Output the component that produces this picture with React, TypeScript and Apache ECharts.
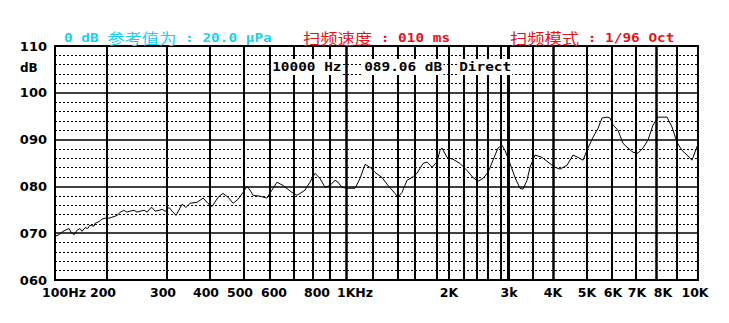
import React, { useEffect, useRef } from 'react';
import * as echarts from 'echarts';

// ---- measured response (frequency in Hz, level in dB re 20 µPa) ----
const freqHz = [
  100, 108, 113, 119, 127, 131, 137, 142, 148, 152, 158, 163, 167, 175, 177, 185, 190, 196,
  203, 208, 217, 222, 228, 233, 238, 245, 250, 255, 262, 267, 272, 275, 280, 287, 292, 297,
  305, 312, 321, 335, 344, 354, 370, 384, 395, 406, 424, 438, 453, 468, 482, 497, 512, 523,
  535, 562, 588, 608, 629, 654, 692, 716, 758, 784, 812, 841, 871, 900, 931, 950, 975, 1007,
  1067, 1104, 1141, 1178, 1216, 1272, 1320, 1376, 1400, 1447, 1506, 1565, 1618, 1673, 1709,
  1755, 1800, 1850, 1883, 1967, 2053, 2147, 2246, 2338, 2418, 2509, 2600, 2677, 2754, 2829,
  2914, 3040, 3140, 3240, 3300, 3380, 3440, 3550, 3725, 3875, 4059, 4206, 4412, 4588, 4735,
  4882, 5040, 5240, 5440, 5600, 5800, 5920, 6042, 6250, 6458, 6667, 6875, 7100, 7350, 7600,
  7850, 8095, 8524, 8762, 9000, 9238, 9476, 9714, 10000,
];
const levelDb = [
  69.3, 69.7, 70.2, 70.6, 71.0, 70.2, 69.7, 70.6, 71.0, 70.4, 71.2, 71.0, 71.7, 71.5, 72.1, 72.5, 73.0, 73.2,
  73.2, 73.4, 73.8, 74.5, 74.9, 74.5, 74.7, 74.9, 74.5, 74.7, 74.9, 74.5, 75.3, 75.5, 74.7, 74.9, 75.1, 74.7,
  75.5, 74.7, 73.8, 76.2, 75.5, 76.4, 76.6, 77.5, 76.4, 75.7, 77.7, 78.5, 77.7, 76.4, 77.2, 78.7, 80.0, 79.2,
  78.1, 77.9, 77.5, 79.2, 80.9, 80.2, 78.7, 78.1, 79.2, 80.9, 82.8, 81.7, 79.8, 80.2, 81.3, 80.9, 79.8, 79.6,
  79.6, 81.7, 84.7, 84.1, 83.0, 81.9, 80.2, 78.5, 77.7, 78.7, 81.3, 81.9, 82.8, 84.9, 85.2,
  84.1, 85.2, 87.7, 88.2, 86.2, 85.8, 84.9, 83.4, 81.9, 81.1, 81.7, 83.0, 85.6, 88.2, 88.8,
  87.7, 84.9, 81.9, 79.6, 79.4, 81.3, 84.1, 86.7, 86.2, 85.2, 84.1, 83.7, 84.5, 86.7, 86.2,
  85.6, 88.2, 90.5, 92.4, 94.6, 94.8, 94.6, 93.1, 92.0, 89.2, 88.2, 87.3, 87.1, 88.2, 89.9,
  93.1, 94.8, 94.8, 92.7, 89.4, 87.7, 86.7, 85.6, 89.06,
];

// ---- the analyzer's (non-logarithmic) frequency scale: grid frequencies and their axis units ----
const gridFreqs = [
  100, 200, 300, 400, 500, 600, 700, 800, 900, 1000, 1200, 1400, 1600, 1800, 2000,
  2200, 2400, 2600, 2800, 3000, 3500, 4000, 5000, 6000, 7000, 8000, 9000, 10000,
];
const gridUnits = [
  0, 52, 112, 155, 189, 215, 239, 258, 275, 291, 318, 343, 360, 382, 394,
  409, 422, 433, 446, 453, 478, 498, 532, 557, 581, 601, 622, 643,
];
const heavyGridFreqs = [1000, 3000, 4000, 8000];

// ---- tick labels ----
const xLabelFreqs = [100, 200, 300, 400, 500, 600, 800, 1000, 2000, 3000, 4000, 5000, 6000, 7000, 8000, 10000];
const xLabelTexts = ['100Hz', '200', '300', '400', '500', '600', '800', '1KHz', '2K', '3k', '4K', '5K', '6K', '7K', '8K', '10K'];
const xLabelNudge = [9, -4, -4, -4, -4, 4, 4, 9, 0, 1, 0, 0, 1, 1, 7, -3];
const yMin = 60;
const yMax = 110;
const yStep = 10;

// ---- header / readout texts ----
const headerRef = '{a|0 dB }{c|参考值为}{a| : 20.0 μPa}';
const headerSpeed = '{c|扫频速度}{a| : 010 ms}';
const headerMode = '{c|扫频模式}{a| : 1/96 Oct}';
const readoutTexts = ['10000 Hz', '089.06 dB', 'Direct'];
const yUnit = 'dB';

function warp(f: number): number {
  for (let i = 0; i < gridFreqs.length - 1; i++) {
    if (f <= gridFreqs[i + 1]) {
      const t = (f - gridFreqs[i]) / (gridFreqs[i + 1] - gridFreqs[i]);
      return gridUnits[i] + t * (gridUnits[i + 1] - gridUnits[i]);
    }
  }
  return gridUnits[gridUnits.length - 1];
}

export default function App() {
  const ref = useRef<HTMLDivElement>(null);

  useEffect(() => {
    if (!ref.current) return;
    const chart = echarts.init(ref.current, null, { renderer: 'svg' });

    const labelUnits = xLabelFreqs.map(warp);
    const rich: Record<string, any> = {};
    xLabelNudge.forEach((n, i) => {
      rich['n' + i] = {
        padding: n >= 0 ? [0, 0, 0, 2 * n] : [0, -2 * n, 0, 0],
      };
    });

    const monoRich = {
      a: { fontFamily: 'DejaVu Sans Mono', fontWeight: 'bold', fontSize: 12 },
      c: { fontFamily: 'Noto Sans CJK SC', fontWeight: 'normal', fontSize: 14.4 },
    };

    const headerText = (x: number, text: string, color: string) => ({
      type: 'text',
      x,
      y: 38,
      scaleX: 1.2,
      z: 100,
      style: {
        text,
        rich: monoRich,
        fill: color,
        verticalAlign: 'middle',
        textVerticalAlign: 'middle',
        align: 'left',
        textAlign: 'left',
      },
    });

    const readoutX = [271, 363, 458];

    chart.setOption({
      animation: false,
      backgroundColor: '#ffffff',
      grid: {
        left: 55,
        right: 31,
        top: 46,
        bottom: 43,
        show: true,
        borderColor: '#000',
        borderWidth: 2,
        backgroundColor: 'transparent',
      },
      xAxis: {
        type: 'value',
        min: gridUnits[0],
        max: gridUnits[gridUnits.length - 1],
        axisLine: { show: false },
        axisTick: { show: false },
        splitLine: { show: false },
        axisLabel: {
          customValues: labelUnits,
          margin: 6,
          color: '#000',
          fontFamily: 'DejaVu Sans',
          fontWeight: 'bold',
          fontSize: 12.5,
          hideOverlap: false,
          rich,
          formatter: (v: number) => {
            let idx = 0;
            let best = Infinity;
            labelUnits.forEach((u, i) => {
              const d = Math.abs(u - v);
              if (d < best) {
                best = d;
                idx = i;
              }
            });
            return '{n' + idx + '|' + xLabelTexts[idx] + '}';
          },
        },
      },
      yAxis: {
        type: 'value',
        min: yMin,
        max: yMax,
        interval: yStep,
        axisLine: { show: false },
        axisTick: { show: false },
        axisLabel: {
          margin: 8,
          color: '#000',
          fontFamily: 'DejaVu Sans',
          fontWeight: 'bold',
          fontSize: 13,
          formatter: (v: number) => String(v).padStart(3, '0'),
        },
        splitLine: { show: true, lineStyle: { color: '#000', width: 1.5 } },
        minorTick: { show: false, splitNumber: 5 },
        minorSplitLine: { show: true, lineStyle: { color: '#000', width: 1, type: [2, 2] } },
      },
      series: [
        {
          type: 'line',
          data: [],
          silent: true,
          z: 1,
          markLine: {
            silent: true,
            symbol: ['none', 'none'],
            label: { show: false },
            animation: false,
            data: gridFreqs.slice(1, -1).map((f) => ({
              xAxis: warp(f),
              lineStyle: {
                color: '#000',
                type: 'solid',
                width: f === 3000 ? 3 : heavyGridFreqs.includes(f) ? 2.5 : 2,
              },
            })),
          },
        },
        {
          type: 'line',
          data: freqHz.map((f, i) => [warp(f), levelDb[i]]),
          symbol: 'none',
          showSymbol: false,
          silent: true,
          z: 3,
          lineStyle: { color: '#000', width: 1 },
        },
      ],
      graphic: [
        {
          type: 'text',
          x: 20,
          y: 68,
          z: 100,
          style: {
            text: yUnit,
            font: 'bold 12px "DejaVu Sans"',
            fill: '#000',
            verticalAlign: 'middle',
            textVerticalAlign: 'middle',
          },
        },
        headerText(64, headerRef, '#1ccfee'),
        headerText(303, headerSpeed, '#e2141b'),
        headerText(510, headerMode, '#e2141b'),
        ...readoutTexts.map((t, i) => ({
          type: 'text',
          x: readoutX[i],
          y: 67,
          scaleX: 1.2,
          z: 100,
          style: {
            text: t,
            font: 'bold 12px "DejaVu Sans Mono"',
            fill: '#000',
            backgroundColor: '#fff',
            padding: [2, 1, 2, 1],
            verticalAlign: 'middle',
            textVerticalAlign: 'middle',
          },
        })),
      ],
    });

    return () => chart.dispose();
  }, []);

  return (
    <div
      ref={ref}
      style={{ position: 'fixed', left: 0, top: 0, width: 729, height: 323, background: '#fff' }}
    />
  );
}
